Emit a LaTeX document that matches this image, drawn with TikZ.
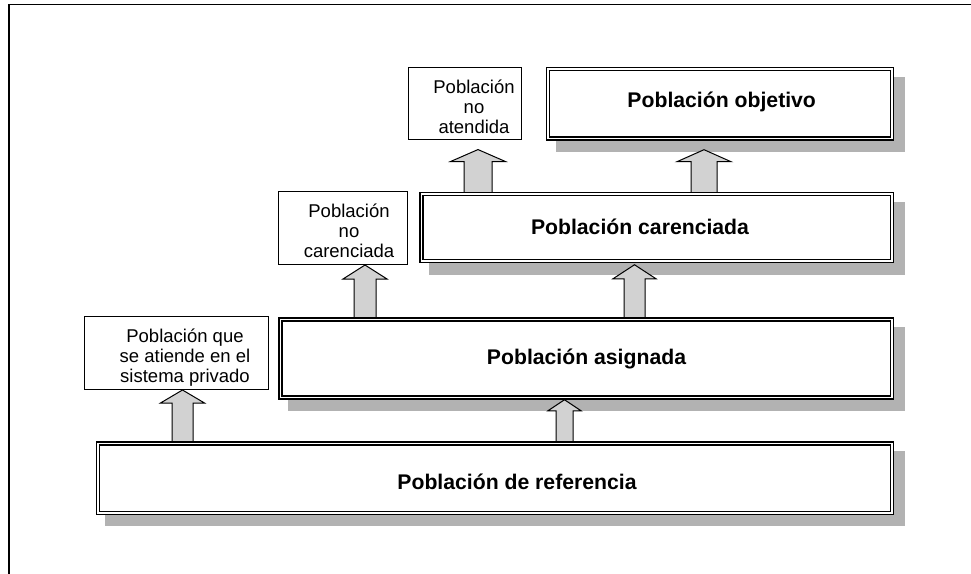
\documentclass[tikz,border=0pt]{standalone}
\usepackage{fontspec}
\setmainfont{Liberation Sans}
\usetikzlibrary{calc}
\definecolor{shadowgray}{HTML}{B2B2B2}
\definecolor{arrowgray}{HTML}{D2D2D2}
\pgfdeclarelayer{background}
\pgfsetlayers{background,main}
\tikzset{
  bigbox/.style={draw=black, double=white, double distance=1.5pt, line width=1.5pt,
    fill=white, rectangle, inner sep=0pt},
  smallbox/.style={draw=black, line width=1.1pt, fill=white, rectangle, inner sep=0pt},
  bigtext/.style={font=\fontsize{21.2}{24}\selectfont\bfseries, inner sep=0pt, anchor=base},
  smalltext/.style={font=\fontsize{18.5}{20.2}\selectfont, align=center, inner sep=0pt, anchor=north},
  blockarrow/.style={draw=black, line width=1pt, fill=arrowgray, line join=miter},
  frameline/.style={draw=black, line width=1.5pt},
}
% #1 from node, #2 to node, #3 centre x, #4 half shaft, #5 half head, #6 head length, #7 gap below target
\newcommand{\blkarrow}[7]{%
  \draw[blockarrow] let \p1=(#1.north), \p2=(#2.south) in
    (#3pt-#4pt,\y1) -- (#3pt-#4pt,\y2-#7pt-#6pt) -- (#3pt-#5pt,\y2-#7pt-#6pt)
    -- (#3pt,\y2-#7pt) -- (#3pt+#5pt,\y2-#7pt-#6pt) -- (#3pt+#4pt,\y2-#7pt-#6pt)
    -- (#3pt+#4pt,\y1) -- cycle;}
% shadow of a big box (outer edge shifted 10.7pt right and down)
\newcommand{\boxshadow}[1]{%
  \fill[shadowgray] ([shift={(8.45pt,-12.95pt)}]#1.south west) rectangle ([shift={(12.95pt,-8.45pt)}]#1.north east);}
\begin{document}
\begin{tikzpicture}[x=1pt,y=-1pt]
\useasboundingbox (0,0) rectangle (971,573);
\draw[frameline] (9,580) -- (9,4.7) -- (980,4.7);

% big boxes
\node[bigbox, minimum width=794pt, minimum height=69.5pt] (ref) at (494.75,478) {};
\node[bigbox, minimum width=611.5pt, minimum height=78pt] (asig) at (586,358.25) {};
\node[bigbox, minimum width=470.5pt, minimum height=67pt] (caren) at (656.5,227.5) {};
\node[bigbox, minimum width=343.75pt, minimum height=69.5pt] (obj) at (719.9,103.7) {};

% small boxes
\node[smallbox, minimum width=183.9pt, minimum height=72.9pt] (priv) at (176.5,353) {};
\node[smallbox, minimum width=129pt, minimum height=72.9pt] (nocar) at (343.3,228) {};
\node[smallbox, minimum width=113pt, minimum height=72pt] (noat) at (465,103.5) {};

% texts
\node[bigtext] (refT) at (517,489.5) {Población de referencia};
\node[bigtext] (asigT) at (586.5,364.3) {Población asignada};
\node[bigtext] (carenT) at (640,234.3) {Población carenciada};
\node[bigtext] (objT) at (721.7,107.7) {Población objetivo};
\node[smalltext] (privT) at (185,327) {\rule{0pt}{15pt}Población que\\se atiende en el\\sistema privado};
\node[smalltext] (nocarT) at (349,202) {\rule{0pt}{15pt}Población\\no\\carenciada};
\node[smalltext] (noatT) at (474,78.3) {\rule{0pt}{15pt}Población\\no\\atendida};

\begin{pgfonlayer}{background}
  \boxshadow{ref}
  \boxshadow{asig}
  \boxshadow{caren}
  \boxshadow{obj}
  \blkarrow{ref}{priv}{182.5}{10.5}{22}{13}{0}
  \blkarrow{ref}{asig}{564.5}{8.5}{16.5}{11}{1.75}
  \blkarrow{asig}{nocar}{365}{11}{22}{14}{0}
  \blkarrow{asig}{caren}{634.5}{10.5}{21.5}{14}{3}
  \blkarrow{caren}{noat}{478}{14}{27.5}{12}{9.5}
  \blkarrow{caren}{obj}{704}{13}{27}{12}{10.5}
\end{pgfonlayer}
\end{tikzpicture}
\end{document}
